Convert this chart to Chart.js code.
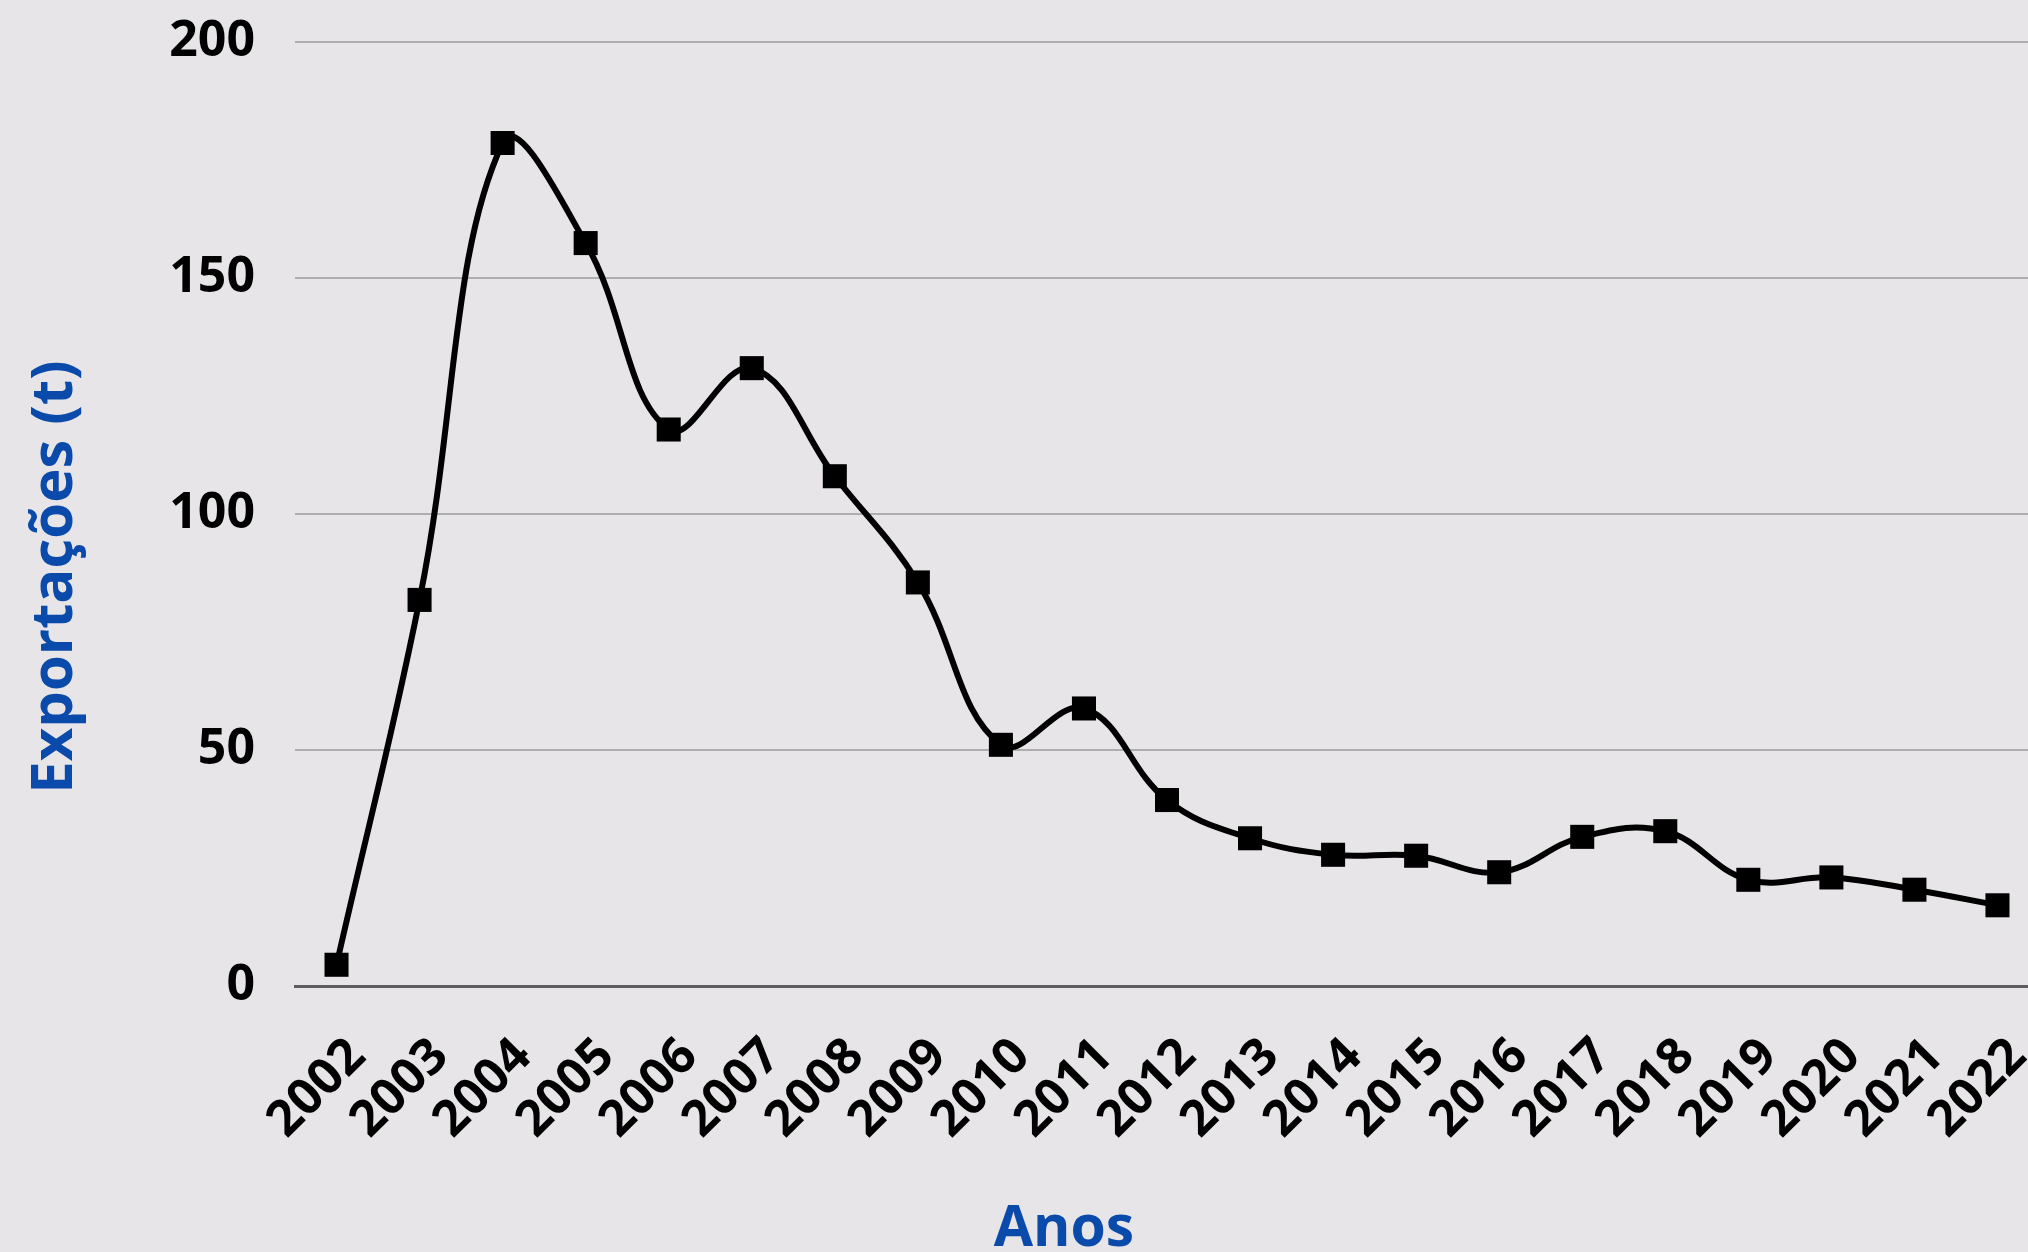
<!DOCTYPE html>
<html>
<head>
<meta charset="utf-8">
<script src="https://cdn.jsdelivr.net/npm/chart.js@4.4.1/dist/chart.umd.min.js"></script>
<style>
  html, body { margin: 0; padding: 0; background: #e7e5e8; overflow: hidden; }
  #wrap { position: relative; width: 2056px; height: 1252px; }
</style>
</head>
<body>
<div id="wrap"><canvas id="expChart"></canvas></div>
<script>
const years = ['2002', '2003', '2004', '2005', '2006', '2007', '2008', '2009', '2010', '2011', '2012',
  '2013', '2014', '2015', '2016', '2017', '2018', '2019', '2020', '2021', '2022'];
const exportacoes = [4.5, 81.8, 178.6, 157.4, 117.9, 130.9, 108.0, 85.5, 51.1, 58.8, 39.4,
  31.3, 27.8, 27.6, 24.1, 31.6, 32.8, 22.5, 23.0, 20.4, 17.1];
const yTicks = [0, 50, 100, 150, 200];

const yTitle = 'Exportações (t)';
const xTitle = 'Anos';
const titleBlue = '#0a4aab';

// axis titles are placed like the original, not centred on the plot area
const axisTitles = {
  id: 'axisTitles',
  afterDraw(chart) {
    const ctx = chart.ctx;
    ctx.save();
    ctx.fillStyle = titleBlue;
    ctx.font = 'bold 57px "Open Sans"';
    ctx.textAlign = 'center';
    ctx.textBaseline = 'alphabetic';
    ctx.fillText(xTitle, 1064, 1246);
    ctx.font = 'bold 58px "Open Sans"';
    ctx.translate(72, 577);
    ctx.rotate(-Math.PI / 2);
    ctx.fillText(yTitle, 0, 0);
    ctx.restore();
  }
};

const expChart = new Chart(document.getElementById('expChart'), {
  type: 'line',
  data: {
    labels: years,
    datasets: [{
      label: 'Exportações',
      data: exportacoes,
      borderColor: '#000000',
      borderWidth: 6,
      backgroundColor: '#000000',
      fill: false,
      tension: 0.4,
      pointStyle: 'rect',
      pointRadius: 17,
      pointBorderWidth: 0,
      pointBackgroundColor: '#000000'
    }]
  },
  options: {
    responsive: true,
    maintainAspectRatio: false,
    animation: false,
    layout: { padding: { top: 42, left: 0, right: 0, bottom: 0 } },
    plugins: {
      legend: { display: false },
      tooltip: { enabled: false }
    },
    scales: {
      x: {
        offset: true,
        grid: { display: false, drawTicks: false },
        border: { display: true, color: '#5f5d60', width: 3 },
        ticks: {
          color: '#000000',
          font: { family: 'Open Sans', size: 50, weight: 'bold' },
          minRotation: 45,
          maxRotation: 45,
          autoSkip: false,
          padding: 41,
          labelOffset: 21
        },
        afterFit: s => { s.paddingLeft = 0; s.paddingRight = 0; s.height = 266; }
      },
      y: {
        min: 0,
        max: 200,
        afterBuildTicks: s => { s.ticks = yTicks.map(v => ({ value: v })); },
        grid: { color: '#aeadb0', lineWidth: 2, drawTicks: false },
        border: { display: false },
        ticks: {
          color: '#000000',
          font: { family: 'Open Sans', size: 50, weight: 'bold' },
          padding: 40
        },
        afterFit: s => { s.width = 295; s.paddingTop = 0; s.paddingBottom = 0; }
      }
    }
  },
  plugins: [axisTitles]
});
</script>
</body>
</html>
